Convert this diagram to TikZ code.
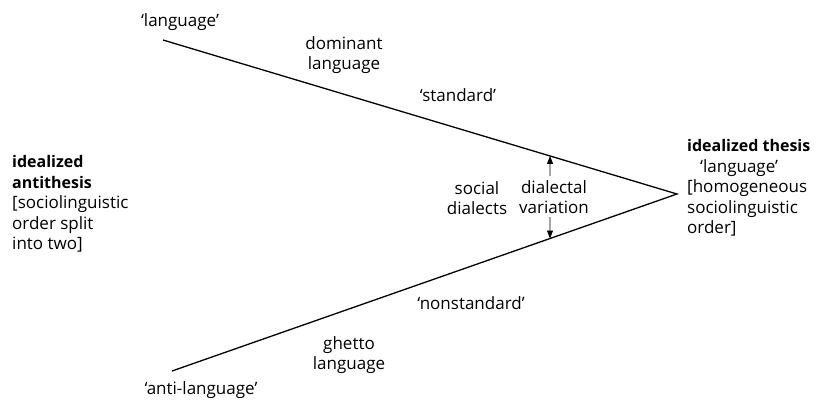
\documentclass[tikz,border=0pt]{standalone}
\usepackage{fontspec}
\setmainfont{Open Sans}
\usetikzlibrary{arrows.meta,calc}
\newcommand{\bh}[1]{{\fontsize{16}{20.5}\selectfont\bfseries #1}}
\tikzset{
  mainline/.style={line width=1.3pt},
  varrow/.style={line width=0.8pt,-{Triangle[length=8pt,width=6pt]}},
  lbl/.style={font=\fontsize{17}{20}\selectfont,inner sep=0pt,align=center},
  blk/.style={font=\fontsize{17}{20.5}\selectfont,inner sep=0pt,align=left,anchor=west}
}
\begin{document}
\begin{tikzpicture}[x=1pt,y=-1pt]
\useasboundingbox (0,0) rectangle (817,400);
\coordinate (ul) at (163,40);
\coordinate (apex) at (677,194);
\coordinate (ll) at (172,371);
\draw[mainline] (ul) -- (apex) -- (ll);
\coordinate (uptip) at ($(ul)!0.753!(apex)$);
\coordinate (lowtip) at ($(ll)!0.7485!(apex)$);
\coordinate (uptail) at (550,176);
\coordinate (lowtail) at (550,217);
\draw[varrow] (uptail) -- (uptip);
\draw[varrow] (lowtail) -- (lowtip);
\node[lbl] (tlang) at (180,22) {‘language’};
\node[lbl] (dom) at (344,55) {dominant\\language};
\node[lbl] (std) at (458,95) {‘standard’};
\node[lbl] (soc) at (477,198) {social\\dialects};
\node[lbl] (dv) at (554,197) {dialectal\\variation};
\node[lbl] (nstd) at (471,303) {‘nonstandard’};
\node[lbl] (ghetto) at (349,355) {ghetto\\language};
\node[lbl] (anti) at (201,390) {‘anti-language’};
\node[blk] (anti-th) at (12,204) {\bh{idealized}\\\bh{antithesis}\\{[}sociolinguistic\\order split\\into two{]}};
\node[blk] (thesis) at (687,188) {\bh{idealized thesis}\\\hspace*{13pt}‘language’\\{[}homogeneous\\sociolinguistic\\order{]}};
\end{tikzpicture}
\end{document}
